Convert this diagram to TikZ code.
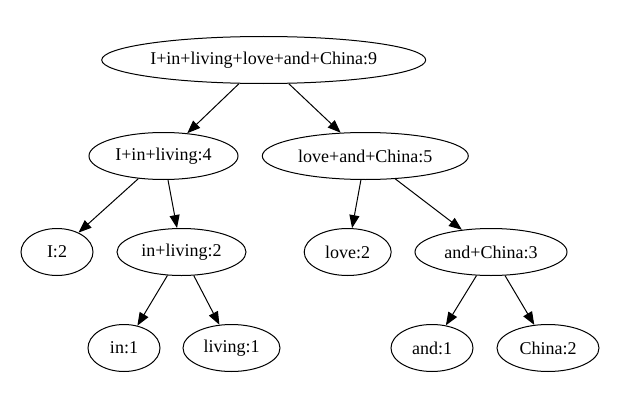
\documentclass[tikz,border=0pt]{standalone}
\usepackage{fontspec}
\setmainfont{Liberation Serif}
\usetikzlibrary{shapes.geometric,arrows.meta}
\tikzset{
  tnode/.style={draw=black, line width=1pt, ellipse, inner sep=0pt, minimum height=47pt, font=\fontsize{18}{20}\selectfont},
  tedge/.style={draw=black, line width=1pt, -{Triangle[length=13pt,width=10pt]}}
}
\begin{document}
\begin{tikzpicture}[x=1pt,y=-1pt]
\useasboundingbox (0,0) rectangle (629,412);
\node[tnode, minimum width=324pt] (root) at (263.7,60) {I+in+living+love+and+China:9};
\node[tnode, minimum width=149pt] (l) at (163.5,156) {I+in+living:4};
\node[tnode, minimum width=206pt] (r) at (365.3,156) {love+and+China:5};
\node[tnode, minimum width=72pt] (i) at (57,252) {I:2};
\node[tnode, minimum width=129pt] (il) at (181.5,252) {in+living:2};
\node[tnode, minimum width=87pt] (lv) at (347.7,252) {love:2};
\node[tnode, minimum width=152pt] (ac) at (491,252) {and+China:3};
\node[tnode, minimum width=72pt] (in) at (124,348) {in:1};
\node[tnode, minimum width=97pt] (liv) at (231.5,348) {living:1};
\node[tnode, minimum width=82pt] (and) at (432,348) {and:1};
\node[tnode, minimum width=102pt] (ch) at (548,348) {China:2};
\draw[tedge] (root) -- (l);
\draw[tedge] (root) -- (r);
\draw[tedge] (l) -- (i);
\draw[tedge] (l) -- (il);
\draw[tedge] (r) -- (lv);
\draw[tedge] (r) -- (ac);
\draw[tedge] (il) -- (in);
\draw[tedge] (il) -- (liv);
\draw[tedge] (ac) -- (and);
\draw[tedge] (ac) -- (ch);
\end{tikzpicture}
\end{document}
